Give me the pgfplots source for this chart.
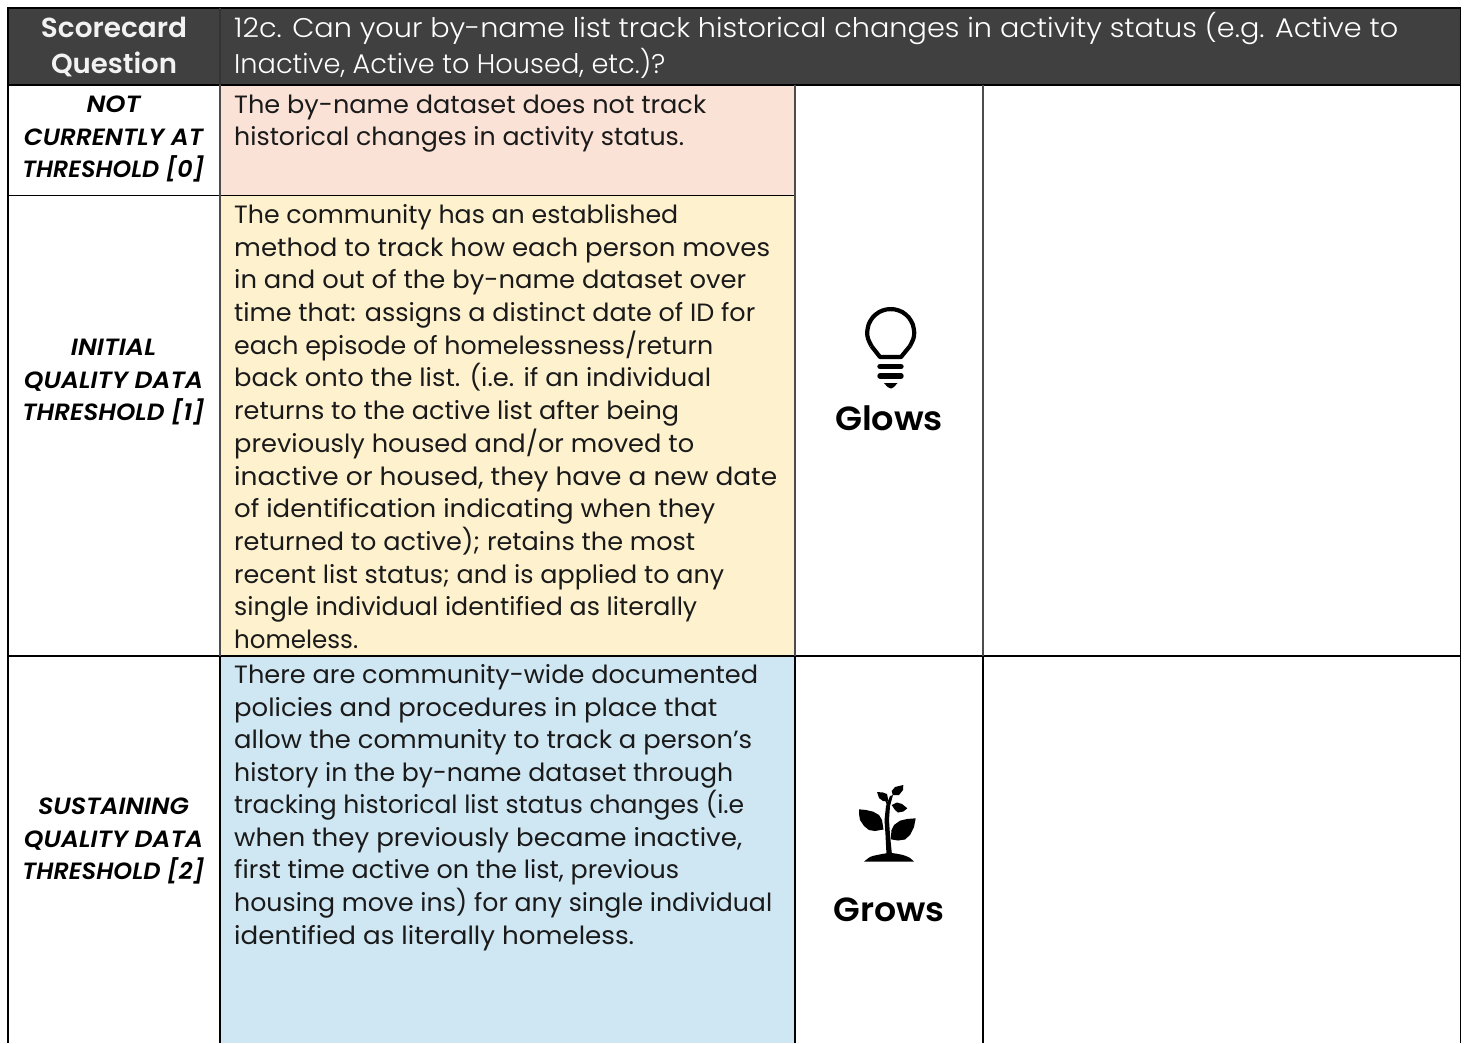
\documentclass[border=0pt]{standalone}
\usepackage{fontspec}
\setmainfont{Poppins}
\newfontfamily\lightf{Poppins Light}
\newfontfamily\semi{Poppins SemiBold}
\newfontfamily\semiit{Poppins SemiBold Italic}
\usepackage{pgfplots}
\pgfplotsset{compat=1.18}
\definecolor{hdr}{HTML}{404040}
\definecolor{pink}{HTML}{FBE2D6}
\definecolor{yel}{HTML}{FEF1CE}
\definecolor{blu}{HTML}{CFE6F3}
\definecolor{ink}{HTML}{1A1A1A}
% #1 baseline, #2 right end of the line, #3 text
\newcommand{\body}[3]{\node[anchor=base west,inner sep=0pt,text=ink,font=\fontsize{25}{29}\selectfont] at (axis cs:234,#1) {\resizebox{\the\numexpr#2-234\relax pt}{\height}{#3}};}
\newcommand{\htext}[3]{\node[anchor=base west,inner sep=0pt,text=white,font=\lightf\fontsize{27}{31}\selectfont] at (axis cs:234,#1) {\resizebox{\the\numexpr#2-234\relax pt}{\height}{#3}};}
\newcommand{\lab}[3]{\node[anchor=base,inner sep=0pt,text=black,font=\semiit\fontsize{23.5}{28}\selectfont] at (axis cs:113.5,#1) {\resizebox{#2pt}{\height}{#3}};}
\begin{document}
\begin{tikzpicture}
\begin{axis}[x=1pt,y=1pt,xmin=0,xmax=1465,ymin=0,ymax=1043,y dir=reverse,hide axis,clip=false,
  scale only axis,axis line style={draw=none}]
\addplot[fill=white,draw=none] coordinates {(0,0)(1465,0)(1465,1043)(0,1043)} --cycle;
\addplot[fill=hdr,draw=none] coordinates {(8,8)(1460,8)(1460,85)(8,85)} --cycle;
\addplot[fill=pink,draw=none] coordinates {(220,85)(795,85)(795,195)(220,195)} --cycle;
\addplot[fill=yel,draw=none] coordinates {(220,195)(795,195)(795,656)(220,656)} --cycle;
\addplot[fill=blu,draw=none] coordinates {(220,656)(795,656)(795,1043)(220,1043)} --cycle;
% rules
\addplot[black,line width=2pt] coordinates {(7,8)(1461,8)};
\addplot[black,line width=1.6pt] coordinates {(8,85)(1460,85)};
\addplot[black,line width=1.8pt] coordinates {(8,195.5)(795,195.5)};
\addplot[black,line width=1.6pt] coordinates {(8,656)(1460,656)};
\addplot[black,line width=2pt] coordinates {(8,8)(8,1043)};
\addplot[black,line width=1pt] coordinates {(1460,8)(1460,1043)};
\addplot[hdr!80!black,line width=1.4pt] coordinates {(220,8)(220,85)};
\addplot[black!70,line width=1.2pt] coordinates {(220,85)(220,656)};
\addplot[black,line width=1.6pt] coordinates {(220,656)(220,1043)};
\addplot[black!70,line width=1.2pt] coordinates {(795,85)(795,656)};
\addplot[black,line width=1.2pt] coordinates {(795,656)(795,1043)};
\addplot[black!70,line width=1.2pt] coordinates {(983,85)(983,656)};
\addplot[black,line width=1.2pt] coordinates {(983,656)(983,1043)};
% bulb
\addplot[black,line width=4.2pt,smooth] coordinates {(871.4,346)(868,338.6)(867.2,332.5)(868.6,324.5)(872.7,317.4)(879,312.1)(886.6,309.4)(894.8,309.4)(902.4,312.1)(908.7,317.4)(912.8,324.5)(914.2,332.5)(913.4,338.6)(910,346)};
\addplot[black,line width=4.2pt,line join=round] coordinates {(871.4,346)(880,357)(901,357)(910,346)};
\addplot[black,line width=5.4pt,line cap=round] coordinates {(880,366.5)(901,366.5)};
\addplot[black,line width=5.4pt,line cap=round] coordinates {(880,376)(901,376)};
\addplot[fill=black,draw=none] coordinates {(884,383)(897.5,383)(894,387)(891,388.5)(887.5,387)} --cycle;
% plant
\addplot[fill=black,draw=none,smooth] coordinates {(864,861.7)(870,857)(877,855)(890,853)(903,855)(910,858)(914,861.7)} --cycle;
\addplot[fill=black,draw=none] coordinates {(859,809.3)(866,810)(873.3,811.7)(879,815)(882,820)(883.5,829.5)(875,831)(869,830)(864,826)(860,820)(859,814)} --cycle;
\addplot[fill=black,draw=none] coordinates {(915.7,818.3)(907,819)(900,820.7)(894,825)(891.5,830)(890.7,839.3)(898,840.5)(905,839.5)(910,835)(914,827)} --cycle;
\addplot[fill=black,draw=none] coordinates {(892.7,795)(891.7,791)(895,787)(903.3,785)(903,790)(899,795)} --cycle;
\addplot[fill=black,draw=none] coordinates {(877,792)(883,792.5)(887,794)(888.5,801.5)(883,801)(879,798)} --cycle;
\addplot[fill=black,draw=none] coordinates {(907.3,808.3)(902,804)(897,802.5)(891.7,805)(895,810)(898,812.5)(903.3,811.5)} --cycle;
\addplot[fill=black,draw=none] coordinates {(886.5,855)(885.5,835)(884.5,820)(886,806)(890,796)(893,795)(890,806)(889,820)(890,835)(892,855)} --cycle;
\addplot[black,line width=1.8pt] coordinates {(887.5,804)(885,797)};
% header
\node[anchor=base,text=white!95!black,inner sep=0pt,font=\semi\fontsize{27.5}{31}\selectfont] at (axis cs:114,37.5) {\resizebox{146pt}{\height}{Scorecard}};
\node[anchor=base,text=white!95!black,inner sep=0pt,font=\semi\fontsize{27.5}{31}\selectfont] at (axis cs:114,73.5) {\resizebox{126pt}{\height}{Question}};
\htext{37.5}{1398}{12c. Can your by-name list track historical changes in activity status (e.g. Active to}
\htext{73.5}{665}{Inactive, Active to Housed, etc.)?}
% labels
\lab{112}{54}{NOT}\lab{145}{179}{CURRENTLY AT}\lab{177}{182}{THRESHOLD [0]}
\lab{355}{85}{INITIAL}\lab{388}{179}{QUALITY DATA}\lab{420}{182}{THRESHOLD [1]}
\lab{814}{151}{SUSTAINING}\lab{847}{179}{QUALITY DATA}\lab{879}{182}{THRESHOLD [2]}
% bodies
\body{113}{706}{The by-name dataset does not track}
\body{145}{684}{historical changes in activity status.}
\body{223}{678}{The community has an established}
\body{256}{770}{method to track how each person moves}
\body{288}{746}{in and out of the by-name dataset over}
\body{321}{755}{time that: assigns a distinct date of ID for}
\body{354}{713}{each episode of homelessness/return}
\body{386}{711}{back onto the list. (i.e. if an individual}
\body{419}{679}{returns to the active list after being}
\body{452}{694}{previously housed and/or moved to}
\body{485}{777}{inactive or housed, they have a new date}
\body{517}{715}{of identification indicating when they}
\body{550}{695}{returned to active); retains the most}
\body{583}{724}{recent list status; and is applied to any}
\body{615}{697}{single individual identified as literally}
\body{648}{358}{homeless.}
\body{683}{758}{There are community-wide documented}
\body{716}{717}{policies and procedures in place that}
\body{748}{752}{allow the community to track a person’s}
\body{781}{733}{history in the by-name dataset through}
\body{813}{744}{tracking historical list status changes (i.e}
\body{846}{742}{when they previously became inactive,}
\body{878}{679}{first time active on the list, previous}
\body{911}{772}{housing move ins) for any single individual}
\body{944}{634}{identified as literally homeless.}
\node[anchor=base,inner sep=0pt,font=\semi\fontsize{33.5}{38}\selectfont] at (axis cs:889,430.5) {\resizebox{108pt}{\height}{Glows}};
\node[anchor=base,inner sep=0pt,font=\semi\fontsize{33.5}{38}\selectfont] at (axis cs:889,921.5) {\resizebox{111pt}{\height}{Grows}};
\end{axis}
\end{tikzpicture}
\end{document}
